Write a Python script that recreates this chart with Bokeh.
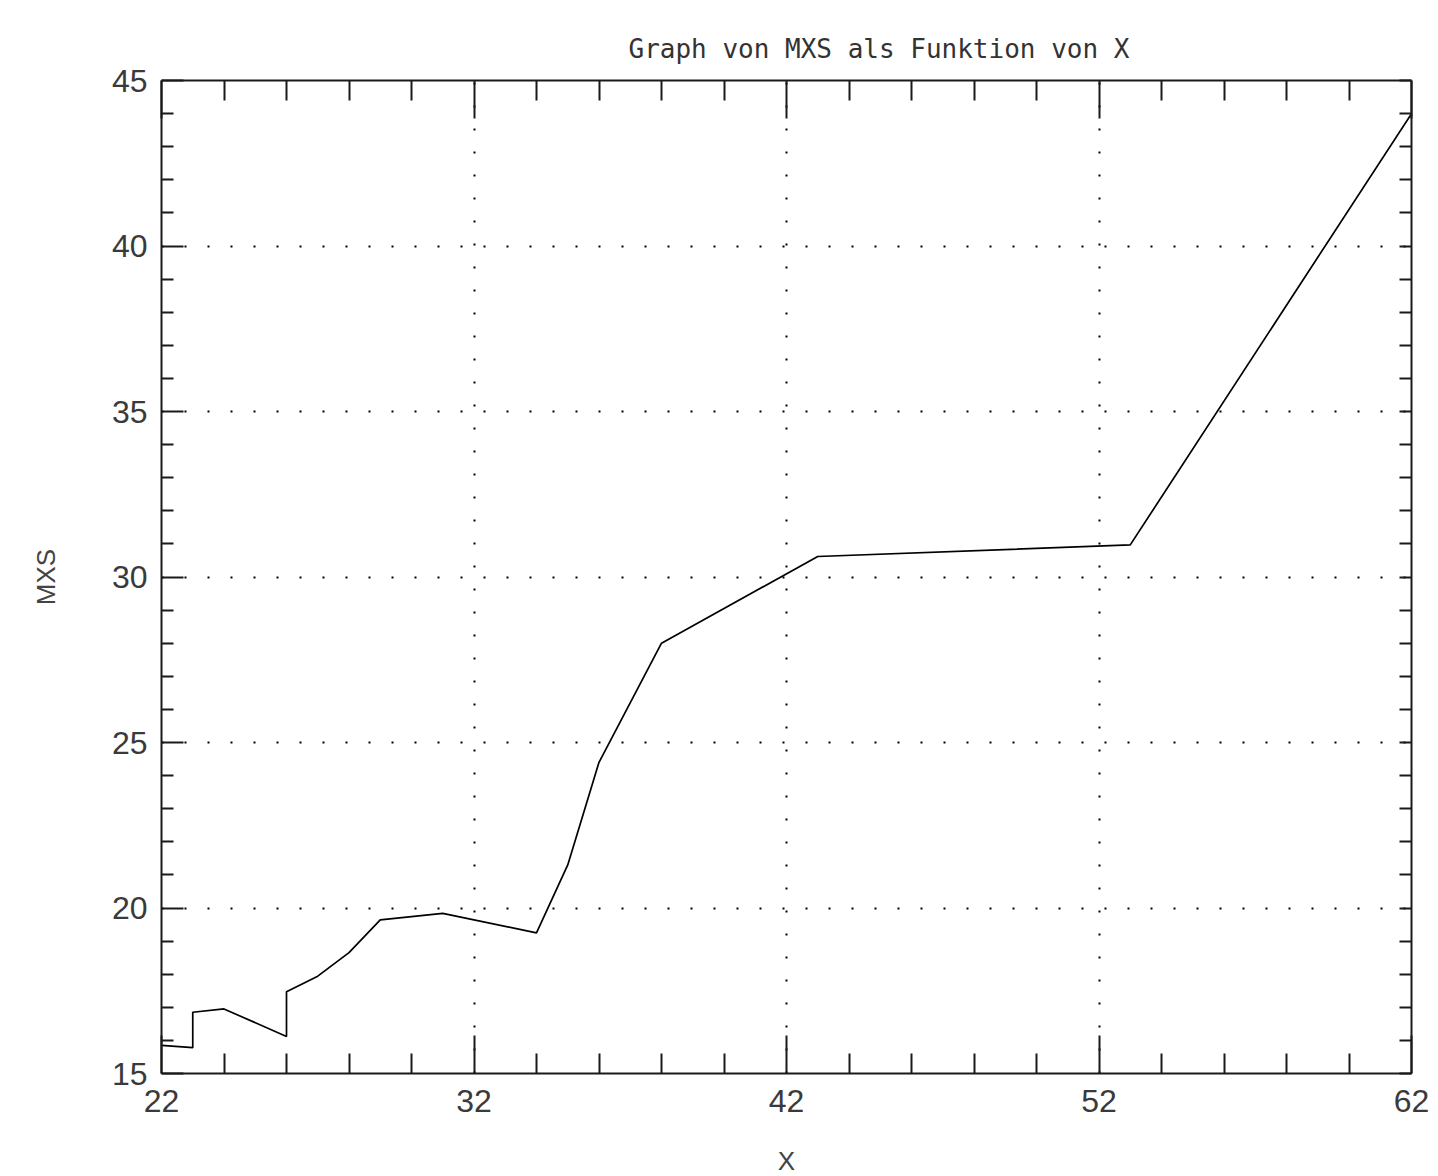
from bokeh.plotting import figure
from bokeh.models import FixedTicker, LinearAxis, Range1d
from bokeh.embed import file_html
from bokeh.resources import INLINE

# data
x_vals = [22, 23, 23, 24, 26, 26, 27, 28, 29, 31, 34, 35, 36, 38, 43, 53, 62]
mxs_vals = [15.85, 15.78, 16.85, 16.95, 16.12, 17.47, 17.94, 18.65, 19.64, 19.84,
            19.25, 21.3, 24.4, 28.0, 30.62, 30.97, 44.0]

x_major = [22, 32, 42, 52, 62]
x_minor = [24, 26, 28, 30, 34, 36, 38, 40, 44, 46, 48, 50, 54, 56, 58, 60]
y_major = [15, 20, 25, 30, 35, 40, 45]
y_minor = [16, 17, 18, 19, 21, 22, 23, 24, 26, 27, 28, 29, 31, 32, 33, 34,
           36, 37, 38, 39, 41, 42, 43, 44]

title_text = "Graph von MXS als Funktion von X"
x_label = "X"
y_label = "MXS"

FONT = "Liberation Sans"
INK = "#1a1a1a"

p = figure(frame_width=1250, frame_height=993,
           x_range=Range1d(22, 62), y_range=Range1d(15, 45),
           output_backend="svg", toolbar_location=None,
           min_border_left=161, min_border_right=20,
           min_border_top=80, min_border_bottom=100,
           x_axis_label=x_label, y_axis_label=y_label)

p.outline_line_color = None
p.background_fill_color = "white"
p.border_fill_color = "white"

p.title.text = title_text
p.title.text_font = "DejaVu Sans Mono"
p.title.text_font_size = "26px"
p.title.text_font_style = "normal"
p.title.text_color = "#333333"
p.title.align = "left"
p.title.vertical_align = "top"
p.title.offset = 467
p.title.standoff = 29

xt = FixedTicker(ticks=x_major, minor_ticks=x_minor)
yt = FixedTicker(ticks=y_major, minor_ticks=y_minor)


def style_axis(ax, ticker, maj, mnr, labels=True):
    ax.ticker = ticker
    ax.axis_line_color = INK
    ax.axis_line_width = 2
    ax.major_tick_line_color = INK
    ax.major_tick_line_width = 2
    ax.minor_tick_line_color = INK
    ax.minor_tick_line_width = 2
    ax.major_tick_in = maj
    ax.major_tick_out = 0
    ax.minor_tick_in = mnr
    ax.minor_tick_out = 0
    if labels:
        ax.major_label_text_font = FONT
        ax.major_label_text_font_size = "32px"
        ax.major_label_text_color = "#3a3a3a"
        ax.axis_label_text_font = FONT
        ax.axis_label_text_font_size = "26px"
        ax.axis_label_text_font_style = "normal"
        ax.axis_label_text_color = "#444444"
    else:
        ax.major_label_text_color = None
        ax.major_label_standoff = 0


style_axis(p.xaxis[0], xt, 38, 20)
p.xaxis[0].major_label_standoff = 16
p.xaxis[0].axis_label_standoff = 31
style_axis(p.yaxis[0], yt, 22, 12)
p.yaxis[0].major_label_standoff = 14
p.yaxis[0].axis_label_standoff = 48

top_axis = LinearAxis()
style_axis(top_axis, xt, 38, 20, labels=False)
top_axis.major_label_standoff = 19
p.add_layout(top_axis, "above")
right_axis = LinearAxis()
style_axis(right_axis, yt, 12, 12, labels=False)
p.add_layout(right_axis, "right")

for g in (p.xgrid[0], p.ygrid[0]):
    g.grid_line_color = "black"
    g.grid_line_width = 2
    g.grid_line_dash = "2 21"

p.line(x_vals, mxs_vals, line_color="black", line_width=1.7)

open("out.html", "w").write(file_html(p, INLINE))
